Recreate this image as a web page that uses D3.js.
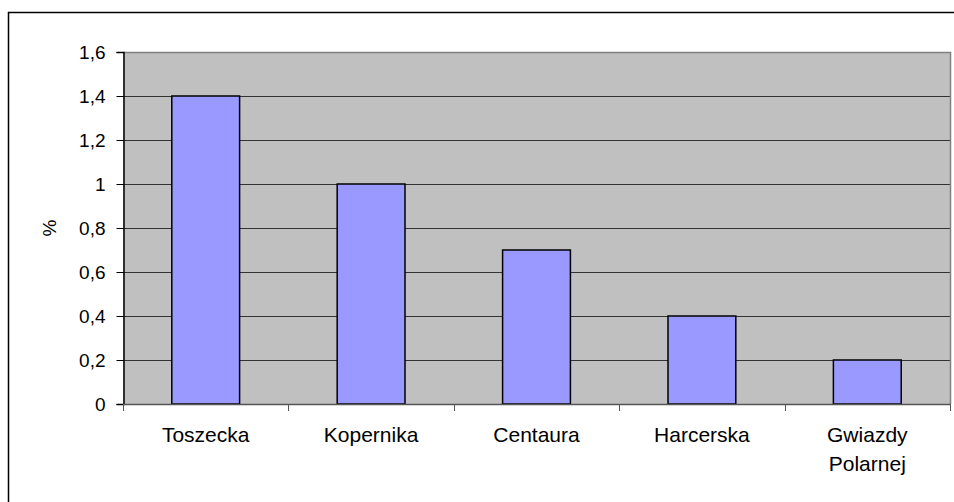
<!DOCTYPE html>
<html>
<head>
<meta charset="utf-8">
<script src="https://cdn.jsdelivr.net/npm/d3@7"></script>
<style>
  body { margin: 0; background: #fff; }
  svg text { font-family: "Liberation Sans", Arial, sans-serif; fill: #000; }
</style>
</head>
<body>
<script>
// chart data
var categories = ["Toszecka", "Kopernika", "Centaura", "Harcerska", "Gwiazdy Polarnej"];
var values = [1.4, 1.0, 0.7, 0.4, 0.2];
var yTicks = [0, 0.2, 0.4, 0.6, 0.8, 1, 1.2, 1.4, 1.6];

var width = 954, height = 502;
var plot = {left: 123, top: 52, right: 950, bottom: 404};

var svg = d3.select("body").append("svg")
    .attr("width", width)
    .attr("height", height);

// outer frame (runs off the right and bottom edge like the original)
svg.append("rect")
    .attr("x", 8.5).attr("y", 12.5)
    .attr("width", 980).attr("height", 520)
    .attr("fill", "#fff")
    .attr("stroke", "#000")
    .attr("stroke-width", 1.5);

var x = d3.scaleBand()
    .domain(categories)
    .range([plot.left, plot.right])
    .paddingInner(0.59)
    .paddingOuter(0.295);

var y = d3.scaleLinear()
    .domain([0, 1.6])
    .range([plot.bottom, plot.top]);

var fmt = function(d){ return String(d).replace(".", ","); };

// plot background
svg.append("rect")
    .attr("x", plot.left).attr("y", plot.top)
    .attr("width", plot.right - plot.left)
    .attr("height", plot.bottom - plot.top)
    .attr("fill", "#c0c0c0");

// gridlines
svg.append("g").selectAll("line")
    .data(yTicks.filter(function(d){ return d > 0 && d < 1.6; }))
    .enter().append("line")
    .attr("x1", plot.left).attr("x2", plot.right)
    .attr("y1", function(d){ return Math.round(y(d)) + 0.5; })
    .attr("y2", function(d){ return Math.round(y(d)) + 0.5; })
    .attr("stroke", "#333")
    .attr("stroke-width", 1);

// plot border top / right
svg.append("path")
    .attr("d", "M" + plot.left + "," + (plot.top + 0.5) + "H" + (plot.right + 0.5) + "V" + plot.bottom)
    .attr("fill", "none")
    .attr("stroke", "#808080")
    .attr("stroke-width", 1.5);

// bars
svg.append("g").selectAll("rect")
    .data(values)
    .enter().append("rect")
    .attr("x", function(d, i){ return x(categories[i]); })
    .attr("y", function(d){ return y(d); })
    .attr("width", x.bandwidth())
    .attr("height", function(d){ return y(0) - y(d); })
    .attr("fill", "#9999ff")
    .attr("stroke", "#000")
    .attr("stroke-width", 1.5);

// y axis
var yAxis = svg.append("g")
    .attr("transform", "translate(" + (plot.left + 0.5) + ",0)")
    .call(d3.axisLeft(y).tickValues(yTicks).tickFormat(fmt).tickSize(7).tickPadding(11));
yAxis.select(".domain").attr("stroke", "#000").attr("stroke-width", 1.5);
yAxis.selectAll(".tick line").attr("stroke", "#000");
yAxis.selectAll(".tick text")
    .style("font-size", "19px")
    .attr("dy", "0.35em");

// x axis (ticks at category boundaries)
var step = x.step();
var bounds = d3.range(categories.length + 1).map(function(i){ return plot.left + i * step; });
var xg = svg.append("g");
xg.append("line")
    .attr("x1", plot.left).attr("x2", plot.right + 1)
    .attr("y1", plot.bottom + 0.5).attr("y2", plot.bottom + 0.5)
    .attr("stroke", "#555").attr("stroke-width", 1.5);
xg.selectAll("line.tk")
    .data(bounds)
    .enter().append("line")
    .attr("class", "tk")
    .attr("x1", function(d){ return Math.round(d) + 0.5; })
    .attr("x2", function(d){ return Math.round(d) + 0.5; })
    .attr("y1", plot.bottom).attr("y2", plot.bottom + 7)
    .attr("stroke", "#555");

xg.selectAll("text")
    .data(categories)
    .enter().append("text")
    .attr("x", function(d){ return x(d) + x.bandwidth() / 2; })
    .attr("y", 442)
    .attr("text-anchor", "middle")
    .style("font-size", "21px")
    .each(function(d){
        var words = d.split(" ");
        var t = d3.select(this);
        words.forEach(function(w, i){
            t.append("tspan")
                .attr("x", x(d) + x.bandwidth() / 2)
                .attr("dy", i === 0 ? 0 : 29)
                .text(w);
        });
    });

// y axis title
svg.append("text")
    .attr("transform", "translate(56," + ((plot.top + plot.bottom) / 2) + ") rotate(-90)")
    .attr("text-anchor", "middle")
    .style("font-size", "19px")
    .text("%");
</script>
</body>
</html>
